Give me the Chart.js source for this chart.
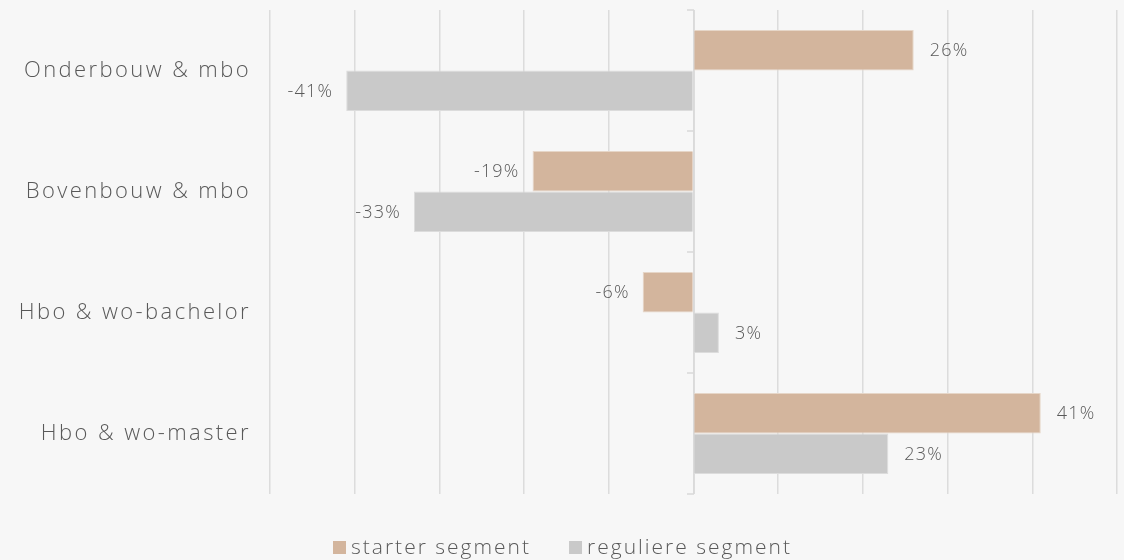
<!DOCTYPE html>
<html>
<head>
<meta charset="utf-8">
<script src="https://cdn.jsdelivr.net/npm/chart.js@4/dist/chart.umd.min.js"></script>
<style>
  html, body { margin: 0; padding: 0; background: #f7f7f7; }
  #wrap { width: 1124px; height: 560px; }
</style>
</head>
<body>
<div id="wrap"><canvas id="chart"></canvas></div>
<script>
// Opleidingsniveau vs. procentuele verandering per segment
const categories = ['Onderbouw & mbo', 'Bovenbouw & mbo', 'Hbo & wo-bachelor', 'Hbo & wo-master'];
const starterValues = [26, -19, -6, 41];
const reguliereValues = [-41, -33, 3, 23];
const seriesNames = ['starter segment', 'reguliere segment'];
const seriesColors = ['#d3b59d', '#c9c9c9'];

const TEXT = '#595959';
const FONT = "'Open Sans', 'Lato', sans-serif";

// wide tracking for all text on the canvas
const tracking = {
    id: 'tracking',
    beforeDraw(chart) {
        chart.ctx.letterSpacing = '2.4px';
    }
};

// value labels next to each bar end
const barLabels = {
    id: 'barLabels',
    afterDatasetsDraw(chart) {
        const ctx = chart.ctx;
        ctx.save();
        ctx.letterSpacing = '1.2px';
        ctx.font = '300 18px ' + FONT;
        ctx.fillStyle = TEXT;
        ctx.textBaseline = 'middle';
        chart.data.datasets.forEach((ds, i) => {
            chart.getDatasetMeta(i).data.forEach((bar, j) => {
                const v = ds.data[j];
                const txt = v + '%';
                if (v >= 0) {
                    ctx.textAlign = 'left';
                    ctx.fillText(txt, bar.x + 16, bar.y + 1);
                } else {
                    ctx.textAlign = 'right';
                    ctx.fillText(txt, bar.x - 13, bar.y + 1);
                }
            });
        });
        ctx.restore();
    }
};

// vertical category axis crossing at 0 with small tick marks
const zeroAxis = {
    id: 'zeroAxis',
    beforeDatasetsDraw(chart) {
        const { ctx, chartArea, scales } = chart;
        const x0 = Math.round(scales.x.getPixelForValue(0));
        const n = categories.length;
        const step = (chartArea.bottom - chartArea.top) / n;
        ctx.save();
        ctx.strokeStyle = '#d9d9d9';
        ctx.lineWidth = 1.5;
        ctx.beginPath();
        ctx.moveTo(x0, chartArea.top);
        ctx.lineTo(x0, chartArea.bottom);
        for (let i = 0; i <= n; i++) {
            const y = Math.round(chartArea.top + i * step);
            ctx.moveTo(x0 - 7, y);
            ctx.lineTo(x0, y);
        }
        ctx.stroke();
        ctx.restore();
    }
};

// legend row under the plot
const bottomLegend = {
    id: 'bottomLegend',
    afterDraw(chart) {
        const ctx = chart.ctx;
        const box = 13, gapBox = 5, gapItem = 38;
        ctx.save();
        ctx.letterSpacing = '2px';
        ctx.font = '300 21px ' + FONT;
        ctx.textBaseline = 'middle';
        ctx.textAlign = 'left';
        const items = chart.data.datasets.map(ds => ({
            text: ds.label,
            color: ds.backgroundColor,
            w: ctx.measureText(ds.label).width
        }));
        let total = 0;
        items.forEach((it, i) => { total += box + gapBox + it.w + (i ? gapItem : 0); });
        let x = Math.round(chart.width / 2 - total / 2);
        const y = 548;
        items.forEach(it => {
            ctx.fillStyle = it.color;
            ctx.fillRect(x, y - 7, box, box);
            ctx.fillStyle = TEXT;
            ctx.fillText(it.text, x + box + gapBox, y);
            x += box + gapBox + it.w + gapItem;
        });
        ctx.restore();
    }
};

const ctx = document.getElementById('chart').getContext('2d');
new Chart(ctx, {
    type: 'bar',
    data: {
        labels: categories,
        datasets: [
            {
                label: seriesNames[0],
                data: starterValues,
                backgroundColor: seriesColors[0],
                borderColor: '#e6d6c8',
                borderWidth: 1
            },
            {
                label: seriesNames[1],
                data: reguliereValues,
                backgroundColor: seriesColors[1],
                borderColor: '#dcdcdc',
                borderWidth: 1
            }
        ]
    },
    options: {
        indexAxis: 'y',
        responsive: true,
        maintainAspectRatio: false,
        animation: false,
        categoryPercentage: 0.67,
        barPercentage: 1,
        layout: { padding: { top: 10, right: 7, left: 0, bottom: 66 } },
        scales: {
            x: {
                min: -50,
                max: 50,
                ticks: { display: false, stepSize: 10 },
                grid: { color: '#dcdcdc', lineWidth: 1.5, drawTicks: false },
                border: { display: false },
                afterFit(scale) { scale.height = 0; }
            },
            y: {
                grid: { display: false },
                border: { display: false },
                ticks: {
                    color: TEXT,
                    padding: 11,
                    font: { family: FONT, size: 22, weight: '300' }
                },
                afterFit(scale) {
                    scale.width = 270;
                    scale.paddingTop = 0;
                    scale.paddingBottom = 0;
                }
            }
        },
        plugins: {
            legend: { display: false },
            tooltip: { enabled: false }
        }
    },
    plugins: [tracking, zeroAxis, barLabels, bottomLegend]
});
</script>
</body>
</html>
